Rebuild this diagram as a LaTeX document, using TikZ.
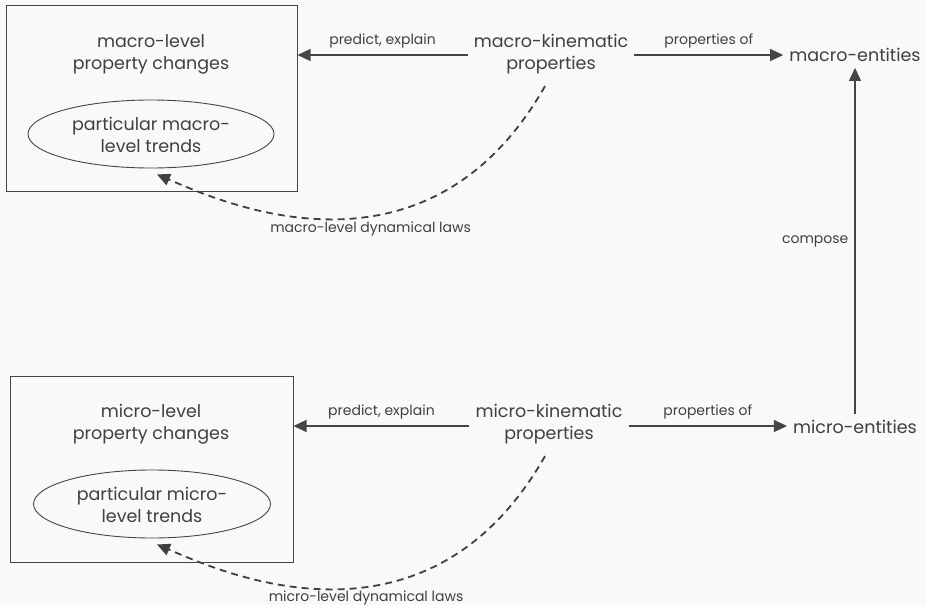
\documentclass[tikz,border=0pt]{standalone}
\usepackage{fontspec}
\setmainfont{Poppins}
\usetikzlibrary{arrows.meta, shapes.geometric}
\definecolor{bgcol}{HTML}{F9F9F9}
\definecolor{inkcol}{HTML}{404040}
\definecolor{linecol}{HTML}{454545}

\begin{document}
\begin{tikzpicture}[x=1pt, y=-1pt]
    \tikzstyle{box}=[
        draw = linecol,
        line width = 1pt,
        rectangle,
        inner sep = 0pt
    ]
    \tikzstyle{oval}=[
        draw = linecol,
        line width = 0.9pt,
        ellipse,
        inner sep = 0pt
    ]
    \tikzstyle{big}=[
        text = inkcol,
        font = \fontsize{17.5}{22}\selectfont,
        align = center,
        inner sep = 6pt
    ]
    \tikzstyle{small}=[
        text = inkcol,
        font = \fontsize{14}{16}\selectfont,
        inner sep = 2pt
    ]
    \tikzstyle{conn}=[
        draw = linecol,
        line width = 1.2pt,
        -{Triangle[length=13pt, width=12pt]}
    ]
    \tikzstyle{dyn}=[
        draw = inkcol,
        line width = 1.8pt,
        dash pattern = on 7pt off 5pt,
        -{Triangle[length=13pt, width=12pt]}
    ]

    \useasboundingbox[fill=bgcol] (0,0) rectangle (926,605);

    % macro level
    \node[box, minimum width=291pt, minimum height=186pt] (mabox) at (151.5,98.5) {};
    \node[big]  (matxt) at (151,54)   {macro-level\\property changes};
    \node[oval, minimum width=246pt, minimum height=68pt] (maell) at (151,134) {};
    \node[big]  (matrd) at (151,135)  {particular macro-\\level trends};
    \node[big]  (makin) at (551,54)   {macro-kinematic\\properties};
    \node[big]  (maent) at (855,55)   {macro-entities};

    % micro level
    \node[box, minimum width=283pt, minimum height=186pt] (mibox) at (151.5,469) {};
    \node[big]  (mitxt) at (151,424)  {micro-level\\property changes};
    \node[oval, minimum width=237pt, minimum height=68pt] (miell) at (152,504) {};
    \node[big]  (mitrd) at (152,505)  {particular micro-\\level trends};
    \node[big]  (mikin) at (549,424)  {micro-kinematic\\properties};
    \node[big]  (mient) at (855,427)  {micro-entities};

    \draw[conn] ([yshift=-1pt]makin.west) -- ([yshift=-1pt]makin.west -| mabox.east)
        node[small, midway, above=4pt] {predict, explain};
    \draw[conn] ([yshift=-1pt]makin.east) -- ([yshift=-1pt]makin.east -| maent.west)
        node[small, midway, above=4pt] {properties of};
    \draw[conn] ([yshift=-2pt]mikin.west) -- ([yshift=-2pt]mikin.west -| mibox.east)
        node[small, midway, above=4pt] {predict, explain};
    \draw[conn] ([yshift=-2pt]mikin.east) -- ([yshift=-2pt]mikin.east -| mient.west)
        node[small, midway, above=4pt] {properties of};
    \draw[conn] (mient.north) -- (maent.south)
        node[small, midway, left=4pt] {compose};

    \draw[dyn] ([xshift=-6pt, yshift=-6pt]makin.south) .. controls +(-119,209) and +(63,27) .. ([xshift=6pt, yshift=-6pt]maell.south)
        node[small, pos=0.41, below=3pt] {macro-level dynamical laws};
    \draw[dyn] ([xshift=-4pt, yshift=-6pt]mikin.south) .. controls +(-119,209) and +(63,27) .. ([xshift=5pt, yshift=-6pt]miell.south)
        node[small, pos=0.42, below=1pt] {micro-level dynamical laws};

\end{tikzpicture}
\end{document}
